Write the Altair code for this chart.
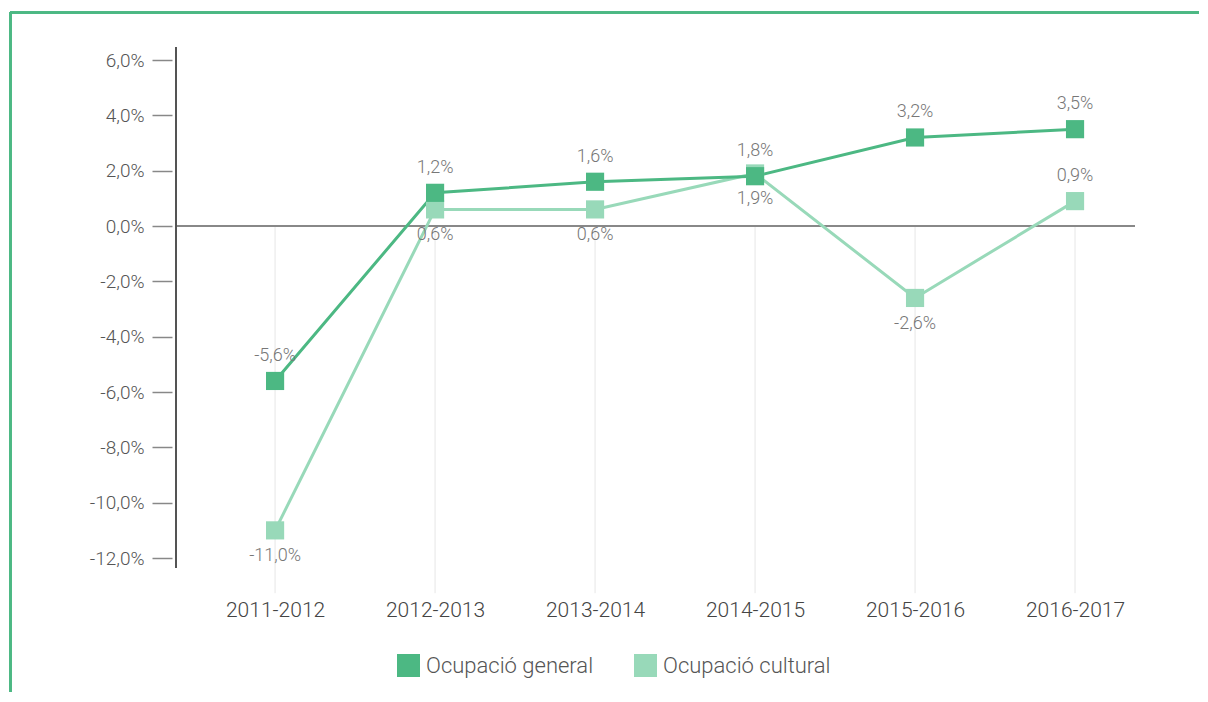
import altair as alt
import pandas as pd

categories = ["2011-2012", "2012-2013", "2013-2014", "2014-2015", "2015-2016", "2016-2017"]
general = [-5.6, 1.2, 1.6, 1.8, 3.2, 3.5]
cultural = [-11.0, 0.6, 0.6, 1.9, -2.6, 0.9]
series_names = ["Ocupació general", "Ocupació cultural"]
general_label_side = ["above", "above", "above", "above", "above", "above"]
cultural_label_side = ["below", "below", "below", "below", "below", "above"]
y_ticks = [-12, -10, -8, -6, -4, -2, 0, 2, 4, 6]

FONT = "Roboto"
DARK = "#4CB883"
PALE = "#98D9B9"
W, H = 959, 521

rows = []
for name, vals, sides in [(series_names[1], cultural, cultural_label_side),
                          (series_names[0], general, general_label_side)]:
    for c, v, s in zip(categories, vals, sides):
        rows.append({"cat": c, "value": v, "series": name, "side": s,
                     "label": f"{v:.1f}".replace(".", ",") + "%"})
df = pd.DataFrame(rows)
cat_df = pd.DataFrame({"cat": categories})

yscale = alt.Scale(domain=[-12.36, 6.47], nice=False, zero=False)
xscale = alt.Scale(type="point", domain=categories, padding=0.497, align=0.623)

x_enc = alt.X("cat:N", scale=xscale, sort=categories,
              axis=alt.Axis(title=None, domain=False, ticks=False, labelPadding=42,
                            labelFontSize=21, labelColor="#444", labelAngle=0,
                            labelAlign="center", labelFont=FONT, labelFontWeight=300))
y_enc = alt.Y("value:Q", scale=yscale,
              axis=alt.Axis(title=None, domain=False, grid=False, values=y_ticks,
                            offset=4, tickSize=20, tickColor="#888", tickWidth=1.5,
                            labelPadding=8, labelFontSize=19, labelColor="#555",
                            labelFont=FONT, labelFontWeight=300,
                            labelExpr="replace(replace(format(datum.value, '.1f'), '.', ','), '\u2212', '-') + '%'"))

color_scale = alt.Scale(domain=series_names, range=[DARK, PALE])
legend = alt.Legend(title=None, orient="none", direction="horizontal",
                    legendX=221, legendY=607, symbolType="square",
                    symbolSize=529, symbolStrokeWidth=0, symbolOpacity=1,
                    labelFontSize=22, labelColor="#555", labelFont=FONT,
                    labelFontWeight=300, labelOffset=6, columnPadding=40,
                    labelLimit=400)

grid = alt.Chart(cat_df).mark_rule(color="#e6e6e6", strokeWidth=1).encode(
    x=alt.X("cat:N", scale=xscale, sort=categories),
    y=alt.datum(0, scale=yscale),
    y2=alt.datum(-13.27),
)

zero = alt.Chart(cat_df).mark_rule(color="#888", strokeWidth=1.5).encode(
    y=alt.datum(0, scale=yscale),
    x=alt.value(0),
    x2=alt.value(W),
)

yline = alt.Chart(cat_df).mark_rule(color="#555", strokeWidth=1.5).encode(
    x=alt.value(0), y=alt.value(0), y2=alt.value(H)
)

frame_top = alt.Chart(cat_df).mark_rule(color=DARK, strokeWidth=2).encode(
    x=alt.value(-166), x2=alt.value(W + 120), y=alt.value(-34.5)
)
frame_left = alt.Chart(cat_df).mark_rule(color=DARK, strokeWidth=2).encode(
    x=alt.value(-165.5), y=alt.value(-35), y2=alt.value(H + 200)
)

points = alt.Chart(df).mark_point(shape="square", filled=True, size=330, opacity=1).encode(
    x=x_enc, y=y_enc,
    color=alt.Color("series:N", scale=color_scale, legend=legend),
)

lines = alt.Chart(df).mark_line(strokeWidth=3).encode(
    x=x_enc, y=y_enc,
    color=alt.Color("series:N", scale=color_scale, legend=legend),
)

labels_above = alt.Chart(df).transform_filter("datum.side == 'above'").mark_text(
    dy=-25, fontSize=18, color="#777", font=FONT, fontWeight=300, baseline="middle"
).encode(x=x_enc, y=y_enc, text="label:N")

labels_below = alt.Chart(df).transform_filter("datum.side == 'below'").mark_text(
    dy=26, fontSize=18, color="#777", font=FONT, fontWeight=300, baseline="middle"
).encode(x=x_enc, y=y_enc, text="label:N")

chart = alt.layer(
    frame_top, frame_left, grid, zero, yline, lines, points, labels_above, labels_below
).properties(
    width=W, height=H,
    autosize=alt.AutoSizeParams(type="none"),
    padding={"left": 168, "top": 39, "right": 64, "bottom": 124},
).configure(background="white").configure_view(stroke=None)

chart.save("out.html", embed_options={"renderer": "svg", "actions": False})
